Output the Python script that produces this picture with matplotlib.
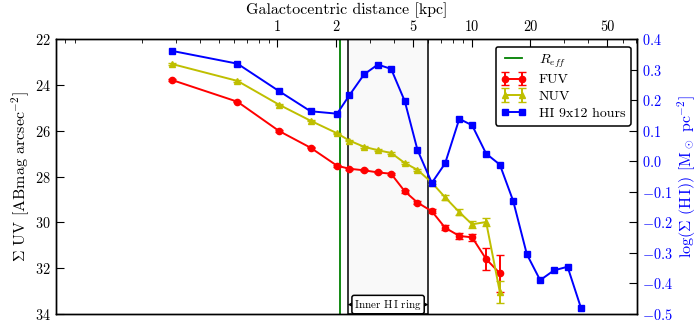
import matplotlib
matplotlib.use("Agg")
import matplotlib.pyplot as plt
import numpy as np
from matplotlib.ticker import FixedLocator, FixedFormatter, LogLocator, NullFormatter, MultipleLocator

plt.rcParams["font.family"] = "serif"
plt.rcParams["font.serif"] = ["cmr10"]
plt.rcParams["mathtext.fontset"] = "cm"
plt.rcParams["axes.formatter.use_mathtext"] = True
plt.rcParams["axes.linewidth"] = 1.0

# radii of the annuli [kpc]
radius = [0.286, 0.622, 1.019, 1.480, 2.029, 2.345, 2.795, 3.289, 3.851, 4.530,
          5.267, 6.244, 7.31, 8.65, 10.07, 11.89, 13.99, 16.39, 19.28, 22.58,
          26.56, 31.25, 36.6]

# UV surface brightness [ABmag arcsec^-2]
fuv = [23.78, 24.73, 26.01, 26.74, 27.53, 27.66, 27.73, 27.82, 27.88, 28.65,
       29.14, 29.52, 30.24, 30.60, 30.66, 31.61, 32.23]
fuv_err = [0.03, 0.03, 0.03, 0.03, 0.04, 0.04, 0.04, 0.04, 0.05, 0.07,
           0.08, 0.09, 0.12, 0.14, 0.15, 0.47, 0.80]
nuv = [23.08, 23.82, 24.86, 25.56, 26.11, 26.43, 26.70, 26.85, 26.97, 27.41,
       27.71, 28.27, 28.91, 29.56, 30.09, 29.99, 33.05]
nuv_err = [0.03, 0.03, 0.03, 0.03, 0.03, 0.03, 0.04, 0.04, 0.04, 0.05,
           0.05, 0.06, 0.10, 0.12, 0.16, 0.16, 0.48]

# log HI surface density [Msun pc^-2]
hi = [0.362, 0.320, 0.230, 0.164, 0.156, 0.216, 0.285, 0.317, 0.303, 0.197,
      0.037, -0.071, -0.007, 0.139, 0.118, 0.025, -0.011, -0.130, -0.305,
      -0.390, -0.358, -0.346, -0.480]

r_eff = 2.09
ring = (2.30, 6.0)

fig = plt.figure(figsize=(7, 3.21), dpi=100)
ax = fig.add_axes([0.0796, 0.0227, 0.8300, 0.8549])
ax2 = ax.twinx()

n = len(fuv)
ax.axvspan(ring[0], ring[1], facecolor="0.975", edgecolor="k", lw=1.1, zorder=0)
ax.axvline(r_eff, color="g", lw=1.3, label=r"$R_{eff}$")
ax.errorbar(radius[:n], fuv, yerr=fuv_err, color="r", marker="o", ms=4.5,
            lw=1.4, capsize=3, label="FUV")
ax.errorbar(radius[:n], nuv, yerr=nuv_err, color="y", marker="^", ms=4.5,
            lw=1.4, capsize=3, label="NUV")
ax2.plot(radius, hi, color="b", marker="s", ms=5, lw=1.4, label="HI 9x12 hours")

# ring annotation
ax.annotate("", xy=(ring[0], 33.6), xytext=(ring[1], 33.6),
            arrowprops=dict(arrowstyle="<|-|>", color="k", lw=0.8,
                            mutation_scale=6, shrinkA=0, shrinkB=0))
ax.text(np.sqrt(ring[0] * ring[1]), 33.6, r"Inner H$\,$I ring", fontsize=8,
        ha="center", va="center",
        bbox=dict(boxstyle="round,pad=0.2", fc="w", ec="k", lw=1.1))

ax.set_xscale("log")
ax.set_xlim(0.072, 71)
ax.set_ylim(34, 22)
ax2.set_ylim(-0.5, 0.4)

ax.xaxis.set_ticks_position("top")
ax.xaxis.set_label_position("top")
ax.xaxis.set_major_locator(FixedLocator([1, 2, 5, 10, 20, 50]))
ax.xaxis.set_major_formatter(FixedFormatter(["1", "2", "5", "10", "20", "50"]))
ax.xaxis.set_minor_locator(LogLocator(subs=np.arange(2, 10)))
ax.xaxis.set_minor_formatter(NullFormatter())
ax.set_xlabel("Galactocentric distance [kpc]", fontsize=11.5, labelpad=5)

ax.yaxis.set_major_locator(MultipleLocator(2))
ax2.yaxis.set_major_locator(MultipleLocator(0.1))
ax.set_ylabel(r"$\Sigma$ UV [ABmag arcsec$^{-2}$]", fontsize=11.5, labelpad=2)
ax2.set_ylabel(r"log($\Sigma$ (H$\,$I)) [M$_\odot$ pc$^{-2}$]", fontsize=11.5,
               color="b", labelpad=2)

ax.tick_params(axis="both", which="both", direction="in", labelsize=10.3)
ax.tick_params(axis="x", which="major", length=6)
ax.tick_params(axis="x", which="minor", length=3)
ax.tick_params(axis="y", length=6)
ax2.tick_params(axis="y", direction="in", length=6, labelsize=10.3, labelcolor="b")

h1, l1 = ax.get_legend_handles_labels()
h2, l2 = ax2.get_legend_handles_labels()
leg = ax2.legend(h1 + h2, l1 + l2, loc="upper right", fontsize=10,
                 numpoints=2, fancybox=True, framealpha=1, edgecolor="k",
                 bbox_to_anchor=(0.99, 0.973), borderaxespad=0, labelspacing=0.3,
                 handlelength=1.8, handletextpad=0.9, borderpad=0.4)
leg.get_frame().set_linewidth(1.1)

fig.savefig("out.png", dpi=100)
